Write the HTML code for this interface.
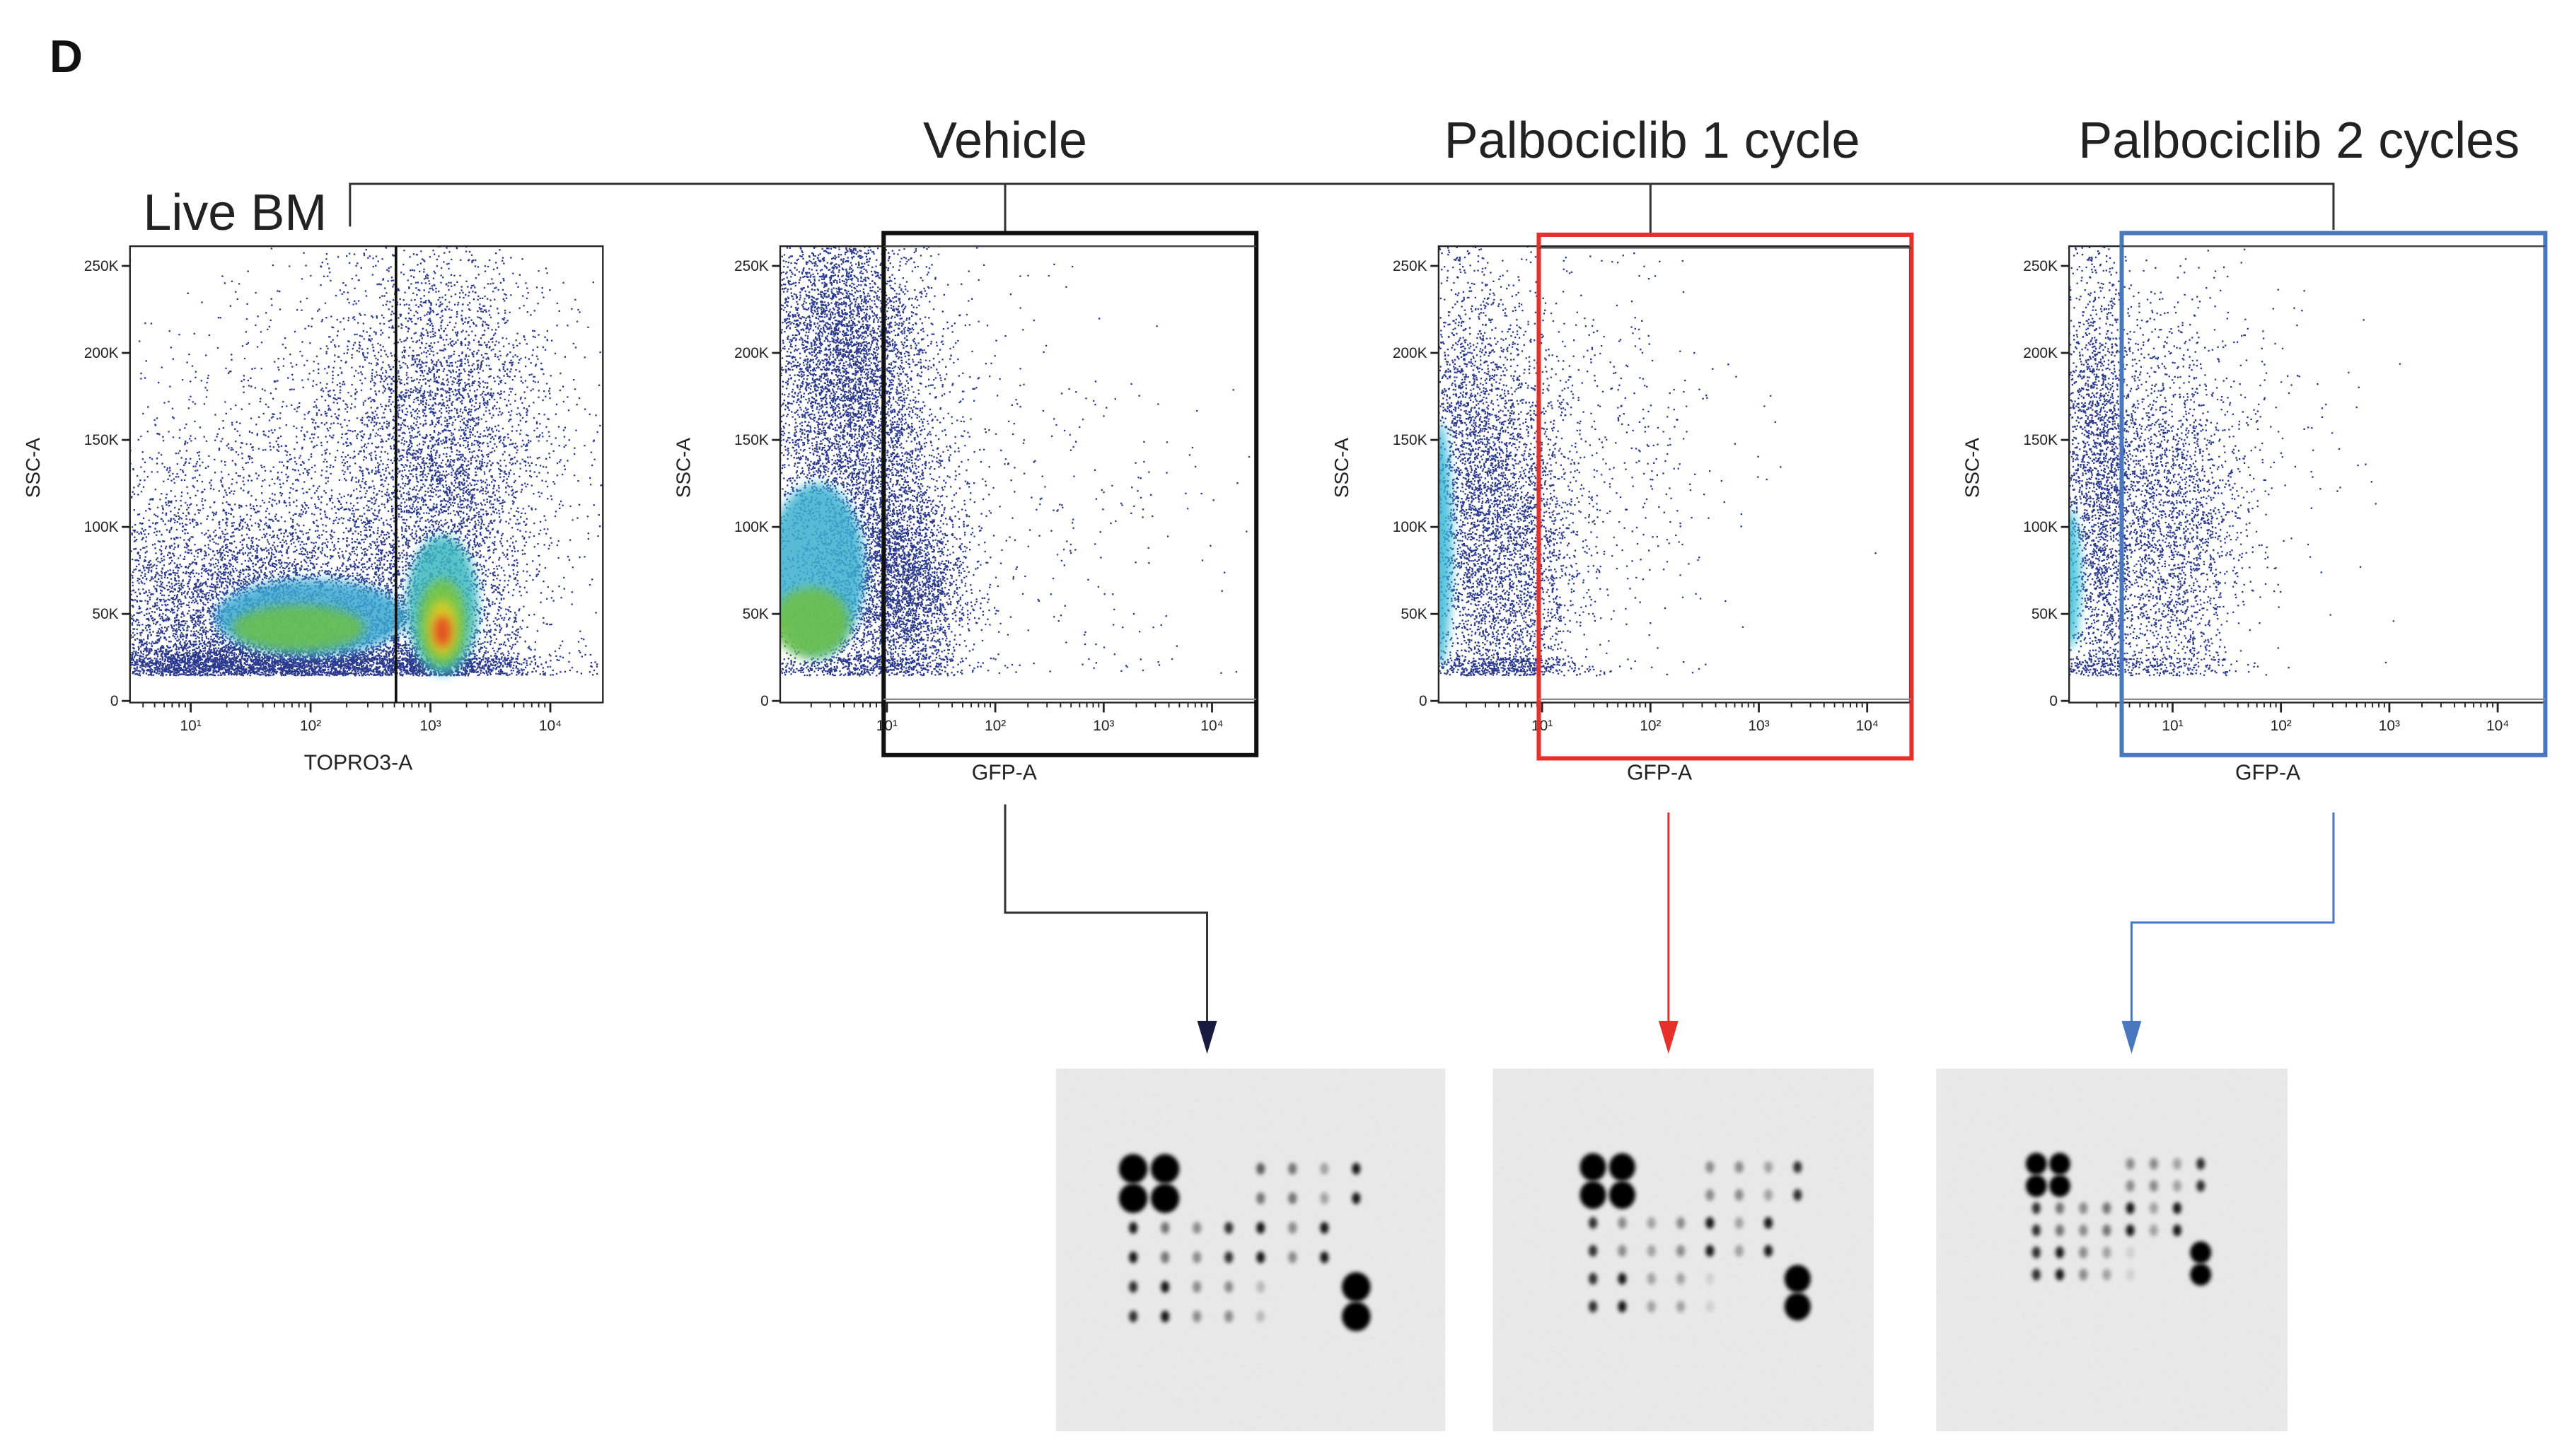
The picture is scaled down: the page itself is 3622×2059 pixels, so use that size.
<!DOCTYPE html>
<html><head><meta charset="utf-8"><style>
html,body{margin:0;padding:0;background:#fff;}
svg{display:block;font-family:"Liberation Sans",sans-serif;}
</style></head>
<body>
<svg id="fig" width="3622" height="2059" viewBox="0 0 1560 887" xmlns="http://www.w3.org/2000/svg">
<defs>
 <filter id="blur1" x="-50%" y="-50%" width="200%" height="200%"><feGaussianBlur stdDeviation="3"/></filter>
 <filter id="blurSpot" x="-80%" y="-80%" width="260%" height="260%"><feGaussianBlur stdDeviation="1.3"/></filter>
 <filter id="grain" x="0" y="0" width="1" height="1"><feTurbulence type="fractalNoise" baseFrequency="0.6" numOctaves="2" seed="3"/><feColorMatrix type="matrix" values="0 0 0 0 0.55  0 0 0 0 0.55  0 0 0 0 0.55  0 0 0 0.10 0"/></filter>
</defs>

<text x="30" y="44" font-size="28" font-weight="bold" fill="#111">D</text>

<g stroke="#333" stroke-width="1.3" fill="none">
 <polyline points="213,138 213,112 1421,112 1421,140"/>
 <line x1="612" y1="112" x2="612" y2="142"/>
 <line x1="1005" y1="112" x2="1005" y2="143"/>
</g>
<text x="87" y="140" font-size="31" fill="#222">Live BM</text>
<text x="612" y="96" font-size="31" text-anchor="middle" fill="#222">Vehicle</text>
<text x="1006" y="96" font-size="31" text-anchor="middle" fill="#222">Palbociclib 1 cycle</text>
<text x="1400" y="96" font-size="31" text-anchor="middle" fill="#222">Palbociclib 2 cycles</text>

<g id="plots"></g>

<polyline points="612,490 612,556 735,556 735,628" fill="none" stroke="#333" stroke-width="1.3"/>
<path d="M729,622 L741,622 L735,642 Z" fill="#1a1a40"/>
<line x1="1016" y1="495" x2="1016" y2="628" stroke="#e8302a" stroke-width="1.3"/>
<path d="M1010,622 L1022,622 L1016,642 Z" fill="#e8302a"/>
<polyline points="1421,495 1421,562 1298,562 1298,628" fill="none" stroke="#4a78c0" stroke-width="1.3"/>
<path d="M1292,622 L1304,622 L1298,642 Z" fill="#4a78c0"/>

<g id="blots"></g>
</svg>

<script>
// ---------- data ----------
var yTickValues = [0, 50000, 100000, 150000, 200000, 250000];
var yTickLabels = ["0", "50K", "100K", "150K", "200K", "250K"];
var xTickDecades = [1, 2, 3, 4];
var xTickLabels = ["10\u00B9", "10\u00B2", "10\u00B3", "10\u2074"];
var plotNames = ["live-bm", "vehicle", "palbo-1-cycle", "palbo-2-cycles"];
var xAxisTitles = ["TOPRO3-A", "GFP-A", "GFP-A", "GFP-A"];
// cell populations: [centre log10 x, centre SSC, spread log x, spread SSC, count]
var popLive = [[1.9, 45000, 0.7, 25000, 14000], [3.1, 60000, 0.35, 60000, 9000], [2.3, 110000, 0.9, 65000, 8000], [1.5, 24000, 1.1, 6000, 5000], [3.1, 170000, 0.45, 55000, 4000], [1.0, 60000, 0.6, 40000, 2500]];
var popVehicle = [[0.45, 90000, 0.45, 55000, 16000], [0.9, 150000, 0.35, 60000, 7000], [1.15, 65000, 0.3, 30000, 6000], [0.5, 210000, 0.35, 40000, 3000], [2.3, 110000, 0.9, 60000, 350]];
var popPalbo1 = [[0.3, 130000, 0.25, 70000, 16000], [0.75, 90000, 0.3, 60000, 7000], [1.5, 140000, 0.6, 60000, 500]];
var popPalbo2 = [[0.3, 130000, 0.2, 70000, 9000], [0.95, 100000, 0.35, 55000, 5000], [1.6, 150000, 0.6, 50000, 200]];
var pops = [popLive, popVehicle, popPalbo1, popPalbo2];
// density cores: [log x, SSC, spread log x, spread SSC, colour]
var coresLive = [[2.0, 48000, 0.8, 22000, "#3aa8d0"], [1.9, 42000, 0.55, 13000, "#6cc048"], [3.1, 55000, 0.3, 40000, "#3ab8c0"], [3.1, 45000, 0.2, 25000, "#7cc63a"], [3.1, 42000, 0.12, 16000, "#e8d020"], [3.1, 40000, 0.07, 9000, "#e83020"]];
var coresVehicle = [[0.35, 75000, 0.45, 50000, "#3ab0d0"], [0.3, 45000, 0.35, 20000, "#70c040"]];
var coresPalbo1 = [[0.05, 90000, 0.12, 70000, "#38b8d8"]];
var coresPalbo2 = [[0.05, 70000, 0.1, 40000, "#38c0d8"]];
var cores = [coresLive, coresVehicle, coresPalbo1, coresPalbo2];
var frameLeft = [79, 475, 876, 1260], frameRight = [367, 765, 1163, 1550];
var decade1Pos = [116, 540, 939, 1323], decadeWidth = [73, 66, 66, 66];
var gateColor = ["#111", "#111", "#e8302a", "#4a78c0"];
var gateRect = [null, [538, 142, 765, 460], [937, 143, 1164, 462], [1292, 142, 1550, 460]];
// dot blots: intensity grids (0 none .. 1 black, 2 big spot)
var blotNames = ["vehicle-blot", "palbo-1-blot", "palbo-2-blot"];
var blotBox = [[643, 651, 880, 872], [909, 651, 1141, 872], [1179, 651, 1393, 872]];
var blotGrid1 = [[2,2,0,0,.6,.5,.3,.9],[2,2,0,0,.5,.5,.3,.9],[.9,.5,.4,.8,.9,.4,.9,0],[.9,.5,.4,.8,.9,.4,.9,0],[.8,.9,.4,.4,.2,0,0,2],[.8,.9,.4,.4,.2,0,0,2]];
var blotGrid2 = [[2,2,0,0,.4,.4,.3,.8],[2,2,0,0,.4,.4,.3,.8],[.8,.4,.3,.4,.9,.3,.9,0],[.8,.4,.3,.4,.9,.3,.9,0],[.8,.9,.3,.3,.1,0,0,2],[.8,.9,.3,.3,.1,0,0,2]];
var blotGrid3 = [[2,2,0,0,.4,.4,.3,.8],[2,2,0,0,.4,.4,.3,.8],[.8,.5,.4,.5,.9,.3,.9,0],[.8,.5,.4,.5,.9,.3,.9,0],[.8,.9,.4,.3,.1,0,0,2],[.8,.9,.4,.3,.1,0,0,2]];
var blotGrids = [blotGrid1, blotGrid2, blotGrid3];
var blotCol0 = [690, 970, 1240], blotColStep = [19.4, 17.8, 14.3];
var blotRow0 = [712, 711, 709], blotRowStep = [18, 17, 13.5];

// ---------- helpers ----------
var NS = "http://www.w3.org/2000/svg";
function mk(tag, attrs, parent) { var e = document.createElementNS(NS, tag); for (var k in attrs) e.setAttribute(k, attrs[k]); parent.appendChild(e); return e; }
var seed = 12345;
function rnd() { seed = (seed * 1103515245 + 12345) & 0x7fffffff; return seed / 0x7fffffff; }
function gauss() { var u = rnd() || 1e-6, v = rnd(); return Math.sqrt(-2 * Math.log(u)) * Math.cos(2 * Math.PI * v); }
var yTop = 150, yBottom = 428, y0px = 427, y250px = 162;
function yScale(v) { return y0px - v / 250000 * (y0px - y250px); }
function xScale(p, logv) { return decade1Pos[p] + (logv - 1) * decadeWidth[p]; }

var plots = document.getElementById("plots");
for (var p = 0; p < 4; p++) {
  var g = mk("g", {}, plots);
  
  
  var L = frameLeft[p], R = frameRight[p];
  var clipId = "clip" + p;
  var cp = mk("clipPath", {id: clipId}, g); mk("rect", {x: L, y: yTop, width: R - L, height: yBottom - yTop}, cp);
  var dots = mk("g", {"clip-path": "url(#" + clipId + ")"}, g);
  
  
  var pp = pops[p], path = "";
  for (var i = 0; i < pp.length; i++) {
    var c = pp[i];
    for (var n = 0; n < c[4]; n++) {
      var lx = c[0] + gauss() * c[2], sv = c[1] + gauss() * c[3];
      if (sv < 15000) sv = 15000 + rnd() * 10000;
      var X = xScale(p, lx), Y = yScale(sv);
      path += "M" + X.toFixed(1) + "," + Y.toFixed(1) + "h1v1h-1z";
    }
  }
  mk("path", {d: path, fill: "#2b3a8e"}, dots);
  var cc = cores[p];
  for (var j = 0; j < cc.length; j++) {
    var k = cc[j];
    var e = mk("ellipse", {cx: xScale(p, k[0]), cy: yScale(k[1]), rx: k[2] * decadeWidth[p], ry: k[3] / 250000 * (y0px - y250px), fill: k[4], filter: "url(#blur1)", opacity: 0.85}, dots);
    
    
  }
  var fr = mk("rect", {x: L, y: yTop, width: R - L, height: yBottom - yTop, fill: "none", stroke: "#222", "stroke-width": 1}, g);
  
  
  for (var t = 0; t < yTickValues.length; t++) {
    var yy = yScale(yTickValues[t]);
    mk("line", {x1: L - 5, x2: L, y1: yy, y2: yy, stroke: "#222", "stroke-width": 1.2}, g);
    var tl = mk("text", {x: L - 7, y: yy + 3, "font-size": 9, "text-anchor": "end", fill: "#222"}, g);
    tl.textContent = yTickLabels[t];
    
    
  }
  for (var d = 0; d < xTickDecades.length; d++) {
    var xx = xScale(p, xTickDecades[d]);
    mk("line", {x1: xx, x2: xx, y1: yBottom, y2: yBottom + 6, stroke: "#222", "stroke-width": 1.2}, g);
    for (var m = 2; m < 10; m++) {
      var xm = xScale(p, xTickDecades[d] - 1 + Math.log10(m));
      if (xm > L && xm < R) mk("line", {x1: xm, x2: xm, y1: yBottom, y2: yBottom + 3, stroke: "#222", "stroke-width": 0.8}, g);
    }
    var xl = mk("text", {x: xx, y: yBottom + 17, "font-size": 9, "text-anchor": "middle", fill: "#222"}, g);
    xl.textContent = xTickLabels[d];
    
    
  }
  var yt = mk("text", {x: 0, y: 0, "font-size": 12, "text-anchor": "middle", fill: "#222", transform: "translate(" + (L - 55) + ",285) rotate(-90)"}, g);
  yt.textContent = "SSC-A";
  
  
  var xt = mk("text", {x: p === 0 ? 218 : (gateRect[p][0] + gateRect[p][2]) / 2 - 40, y: p === 0 ? 469 : 475, "font-size": 13, "text-anchor": "middle", fill: "#222"}, g);
  xt.textContent = xAxisTitles[p];
  
  
  if (p === 0) {
    var gl = mk("line", {x1: 241, x2: 241, y1: yTop, y2: yBottom, stroke: "#111", "stroke-width": 1.6}, g);
    
    
  } else {
    var gr = gateRect[p];
    var gate = mk("rect", {x: gr[0], y: gr[1], width: gr[2] - gr[0], height: gr[3] - gr[1], fill: "none", stroke: gateColor[p], "stroke-width": 2.6}, g);
    
    
    mk("line", {x1: gr[0], x2: gr[2], y1: gr[1] + 8, y2: gr[1] + 8, stroke: "#444", "stroke-width": 0.8}, g);
    mk("line", {x1: gr[0], x2: gr[2], y1: yBottom - 2, y2: yBottom - 2, stroke: "#888", "stroke-width": 1}, g);
  }
}

var blots = document.getElementById("blots");
for (var b = 0; b < 3; b++) {
  var bg = mk("g", {}, blots);
  
  
  var bx = blotBox[b];
  mk("rect", {x: bx[0], y: bx[1], width: bx[2] - bx[0], height: bx[3] - bx[1], fill: "#ebeaea"}, bg);
  mk("rect", {x: bx[0], y: bx[1], width: bx[2] - bx[0], height: bx[3] - bx[1], filter: "url(#grain)"}, bg);
  var grid = blotGrids[b];
  for (var r = 0; r < grid.length; r++) {
    for (var c2 = 0; c2 < grid[r].length; c2++) {
      var v = grid[r][c2]; if (!v) continue;
      var cx = blotCol0[b] + c2 * blotColStep[b], cy = blotRow0[b] + r * blotRowStep[b];
      var big = v === 2;
      var sp = mk("ellipse", {cx: cx, cy: cy, rx: big ? blotColStep[b] * 0.45 : 2.6, ry: big ? blotRowStep[b] * 0.5 : 3.6, fill: "#000", opacity: big ? 1 : v, filter: "url(#blurSpot)"}, bg);
      
      
    }
  }
}
</script>
</body></html>
